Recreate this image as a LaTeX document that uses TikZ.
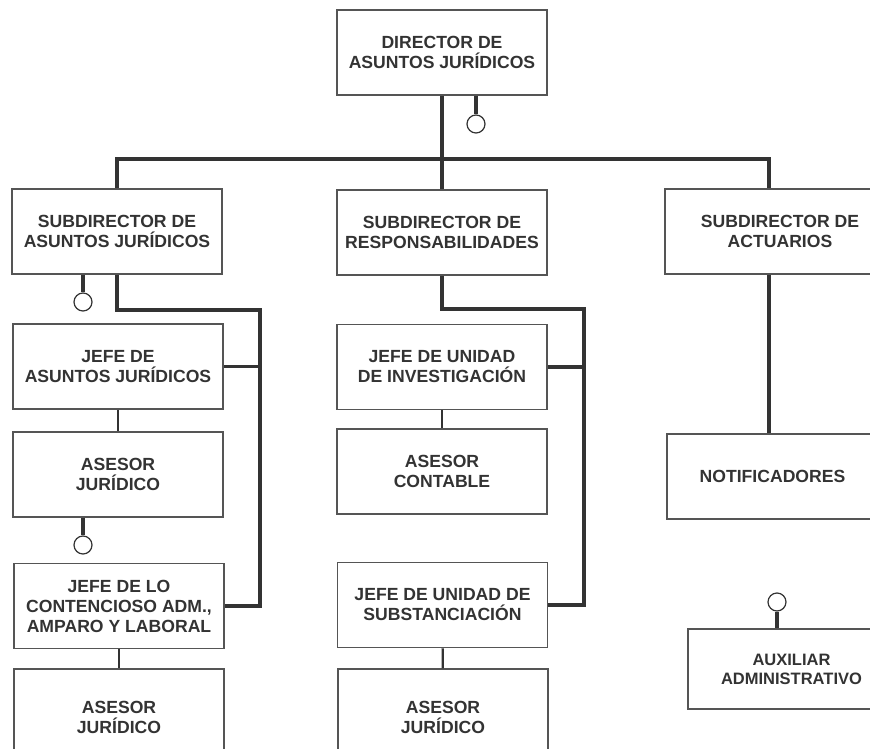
\documentclass[tikz,border=0pt]{standalone}
\usepackage{fontspec}
\setmainfont{Liberation Sans}
\definecolor{boxgray}{HTML}{555555}
\definecolor{inkgray}{HTML}{333333}
\begin{document}
\begin{tikzpicture}[x=1pt, y=-1pt,
    post/.style={draw=boxgray, line width=1.5pt, minimum width=210pt, minimum height=85pt,
        align=center, text=inkgray, inner sep=0pt,
        font=\fontsize{17.6}{20}\selectfont\bfseries},
    link/.style={draw=inkgray, line width=3.2pt},
    sublink/.style={draw=inkgray, line width=2.4pt},
    pin/.style={circle, draw=inkgray, line width=1.2pt, minimum size=18pt, inner sep=0pt, fill=white}]
    \useasboundingbox (0, 0) rectangle (870, 749);

    %% director
    \node[post] (dir) at (442, 52.5) {DIRECTOR DE\\ASUNTOS JURÍDICOS};

    %% subdirectores
    \node[post] (subA) at (117, 231.5) {SUBDIRECTOR DE\\ASUNTOS JURÍDICOS};
    \node[post] (subR) at (442, 232.5) {SUBDIRECTOR DE\\RESPONSABILIDADES};
    \node[post, minimum width=230pt] (subAct) at (780, 231.5) {SUBDIRECTOR DE\\ACTUARIOS};

    %% left column
    \node[post] (jefeA) at (118, 366.5) {JEFE DE\\ASUNTOS JURÍDICOS};
    \node[post] (asesA) at (118, 474.5) {ASESOR\\JURÍDICO};
    \node[post] (cont) at (119, 606) {JEFE DE LO\\CONTENCIOSO ADM.,\\AMPARO Y LABORAL};
    \node[post, minimum height=96pt] (asesB) at (119, 717) {ASESOR\\JURÍDICO};

    %% middle column
    \node[post] (jefeI) at (442, 367) {JEFE DE UNIDAD\\DE INVESTIGACIÓN};
    \node[post] (asesC) at (442, 471.5) {ASESOR\\CONTABLE};
    \node[post] (jefeS) at (442.5, 605) {JEFE DE UNIDAD DE\\SUBSTANCIACIÓN};
    \node[post, minimum height=96pt] (asesD) at (443, 717) {ASESOR\\JURÍDICO};

    %% right column
    \node[post, minimum width=211pt] (notif) at (772.5, 476.5) {NOTIFICADORES};
    \node[post, minimum width=207pt, minimum height=80pt,
        font=\fontsize{16.5}{19}\selectfont\bfseries] (aux) at (791.5, 669) {AUXILIAR\\ADMINISTRATIVO};

    %% pins
    \node[pin] (pinD) at (476, 124) {};
    \node[pin] (pinA) at (83, 302) {};
    \node[pin] (pinB) at (83, 545) {};
    \node[pin] (pinX) at (777, 602) {};

    \coordinate (actX) at (769, 159);
    \coordinate (kneeA) at (260, 310);
    \coordinate (kneeR) at (584, 309);

    %% main lines
    \draw[link] (dir.south) -- (subR.north);
    \draw[link] (subA.north) |- (actX) -- (subAct.north -| actX);
    \draw[link] (subAct.south -| actX) -- (notif.north -| actX);

    \draw[link] (subA.south) |- (kneeA) |- (cont.east);
    \draw[link] (jefeA.east) -- (jefeA.east -| kneeA);

    \draw[link] (subR.south) |- (kneeR) |- (jefeS.east);
    \draw[link] (jefeI.east) -- (jefeI.east -| kneeR);

    %% short lines
    \draw[sublink] (jefeA) -- (asesA);
    \draw[sublink] (cont) -- (asesB);
    \draw[sublink] (jefeI) -- (asesC);
    \draw[sublink] (jefeS) -- (asesD);

    %% stubs
    \draw[link] (dir.south -| pinD) -- (pinD);
    \draw[link] (subA.south -| pinA) -- (pinA);
    \draw[link] (asesA.south -| pinB) -- (pinB);
    \draw[link] (pinX) -- (aux.north -| pinX);
\end{tikzpicture}
\end{document}
